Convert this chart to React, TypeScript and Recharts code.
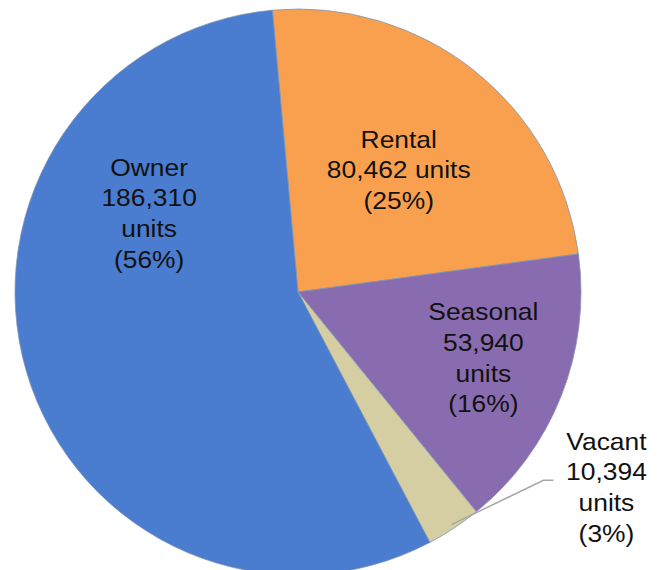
import { PieChart, Pie, Cell } from "recharts";

// slice order follows the picture, clockwise from just left of 12 o'clock
const categories = ["Rental", "Seasonal", "Vacant", "Owner"];
const units = [80462, 53940, 10394, 186310];
const percentLabels = ["25%", "16%", "3%", "56%"];
const colors = ["#F9A04F", "#896CAF", "#D5CEA3", "#4A7CCF"];

// centre of each label block, as a fraction of the radius from the pie centre
const labelSpots = [
  { fx: 0.356, fy: -0.432 },
  { fx: 0.655, fy: 0.233 },
  { fx: 1.09, fy: 0.69 },
  { fx: -0.526, fy: -0.278 },
];

const data = categories.map((name, i) => ({ name, value: units[i] }));

const START = 95.2;
const RADIUS = 283;
const LINE_H = 30.7;
const FONT = 24;
const RAD = Math.PI / 180;

function labelLines(i: number): string[] {
  const n = units[i].toLocaleString("en-US");
  if (categories[i] === "Rental") {
    return [categories[i], `${n} units`, `(${percentLabels[i]})`];
  }
  return [categories[i], n, "units", `(${percentLabels[i]})`];
}

const renderLabel = (props: any) => {
  const { cx, cy, outerRadius, midAngle, index } = props;
  const spot = labelSpots[index];
  const lines = labelLines(index);
  const x = cx + spot.fx * outerRadius;
  const yMid = cy + spot.fy * outerRadius;
  const firstCenter = yMid - ((lines.length - 1) * LINE_H) / 2;

  let leader = null;
  if (categories[index] === "Vacant") {
    const sx = cx + outerRadius * 0.985 * Math.cos(-midAngle * RAD);
    const sy = cy + outerRadius * 0.985 * Math.sin(-midAngle * RAD);
    const ex = x - 63;
    const ey = firstCenter + 39;
    leader = (
      <polyline
        points={`${sx},${sy} ${ex},${ey} ${ex + 10},${ey}`}
        fill="none"
        stroke="#A6A6A6"
        strokeWidth={1.5}
      />
    );
  }

  return (
    <g>
      {leader}
      <text
        x={x}
        y={firstCenter}
        textAnchor="middle"
        fill="#111"
        fontSize={FONT}
        fontFamily="'Liberation Sans', Arial, sans-serif"
        transform={`translate(${x},0) scale(1.1,1) translate(${-x},0)`}
      >
        {lines.map((l, k) => (
          <tspan key={k} x={x} dy={k === 0 ? 8.5 : LINE_H}>
            {l}
          </tspan>
        ))}
      </text>
    </g>
  );
};

export default function App() {
  return (
    <div style={{ position: "absolute", left: 0, top: 0, background: "#fff" }}>
      <PieChart
        width={662}
        height={570}
        margin={{ top: 0, right: 0, bottom: 0, left: 0 }}
      >
        <Pie
          data={data}
          dataKey="value"
          nameKey="name"
          cx={298}
          cy={292}
          outerRadius={RADIUS}
          startAngle={START}
          endAngle={START - 360}
          stroke="#7F95B5"
          strokeWidth={0.8}
          label={renderLabel}
          labelLine={false}
          isAnimationActive={false}
        >
          {data.map((d, i) => (
            <Cell key={d.name} fill={colors[i]} />
          ))}
        </Pie>
      </PieChart>
    </div>
  );
}
